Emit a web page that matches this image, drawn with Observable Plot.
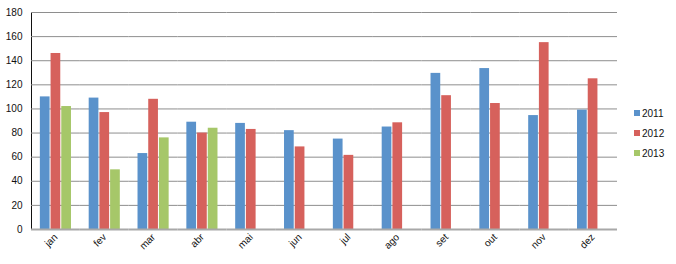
<!DOCTYPE html>
<html>
<head>
<meta charset="utf-8">
<script src="https://cdn.jsdelivr.net/npm/d3@7"></script>
<script src="https://cdn.jsdelivr.net/npm/@observablehq/plot@0.6"></script>
<style>
  html, body { margin: 0; padding: 0; background: #fff; }
  #wrap { position: relative; width: 676px; height: 264px; font-family: "Liberation Sans", "Open Sans", sans-serif; }
  #legend { position: absolute; left: 634px; top: 103px; font-size: 10px; color: #111; }
  #legend div { height: 20px; display: flex; align-items: center; }
  #legend span.sw { display: inline-block; width: 6px; height: 6px; margin-right: 2px; }
</style>
</head>
<body>
<div id="wrap"><div id="legend"></div></div>
<script>
const months = ["jan","fev","mar","abr","mai","jun","jul","ago","set","out","nov","dez"];
const years = ["2011","2012","2013"];
const colors = ["#5A92CB", "#D6615C", "#A6C769"];
const v2011 = [110, 109, 63, 89, 88, 82, 75, 85, 129.5, 133.5, 94.5, 99];
const v2012 = [146, 97, 108, 80, 83, 68.5, 61.5, 88.5, 111, 104.5, 155, 125];
const v2013 = [102, 49.5, 76, 84, null, null, null, null, null, null, null, null];
const yTicks = [0, 20, 40, 60, 80, 100, 120, 140, 160, 180];

const series = [v2011, v2012, v2013];
const data = [];
months.forEach((m, i) => {
  years.forEach((y, j) => {
    const v = series[j][i];
    if (v != null) data.push({month: m, year: y, value: v});
  });
});

const chart = Plot.plot({
  width: 676,
  height: 264,
  marginLeft: 31,
  marginRight: 59,
  marginTop: 12,
  marginBottom: 35,
  style: {fontFamily: "'Liberation Sans', 'Open Sans', sans-serif", fontSize: "10px", color: "#111", background: "white"},
  fx: {domain: months, padding: 0, round: false, label: null, tickRotate: -45, tickSize: 0, tickPadding: 6},
  x: {domain: years, paddingInner: 0, paddingOuter: 0.78, round: false, axis: null},
  y: {domain: [0, 180], ticks: yTicks, tickSize: 0, tickPadding: 9, label: null, line: true},
  color: {domain: years, range: colors},
  marks: [
    Plot.ruleY(yTicks.slice(1), {stroke: "#8e8e8e", strokeWidth: 1}),
    Plot.barY(data, {fx: "month", x: "year", y: "value", fill: "year", insetLeft: 0.5, insetRight: 0.5}),
    Plot.ruleY([0], {stroke: "#a8a8a8", strokeWidth: 2})
  ]
});
document.getElementById("wrap").prepend(chart);

const legend = document.getElementById("legend");
years.forEach((y, j) => {
  const row = document.createElement("div");
  row.innerHTML = `<span class="sw" style="background:${colors[j]}"></span>${y}`;
  legend.appendChild(row);
});
</script>
</body>
</html>
